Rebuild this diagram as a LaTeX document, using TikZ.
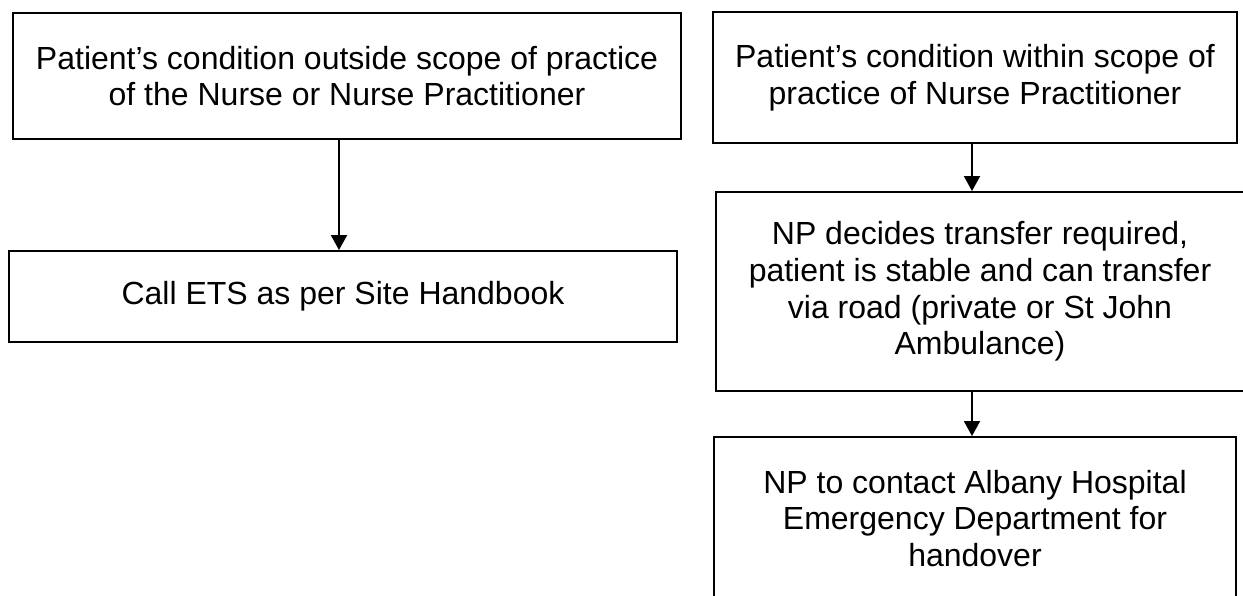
\documentclass[tikz,border=0pt]{standalone}
\usepackage{fontspec}
\setmainfont{Liberation Sans}
\usetikzlibrary{arrows.meta}
\begin{document}
\begin{tikzpicture}[x=1pt,y=-1pt,
  box/.style={draw=black,line width=1.9pt,rectangle,inner sep=0pt,align=center,
    font=\fontsize{32pt}{36.8pt}\selectfont},
  arr/.style={draw=black,line width=1.9pt,-{Triangle[width=16pt,length=15pt]}}]
\useasboundingbox[fill=white] (0,0) rectangle (1243,595);
\node[box,minimum width=668pt,minimum height=126pt] (b1) at (347,76)
  {Patient’s condition outside scope of practice\\of the Nurse or Nurse Practitioner};
\node[box,minimum width=668pt,minimum height=91pt] (b2) at (343,296.5)
  {Call ETS as per Site Handbook};
\node[box,minimum width=524pt,minimum height=131pt] (b3) at (975,77.5)
  {Patient’s condition within scope of\\practice of Nurse Practitioner};
\node[box,minimum width=528pt,minimum height=199pt] (b4) at (980,291.5)
  {NP decides transfer required,\\patient is stable and can transfer\\via road (private or St John\\Ambulance)};
\node[box,minimum width=522pt,minimum height=163pt] (b5) at (975,518.5)
  {NP to contact Albany Hospital\\Emergency Department for\\handover};
\coordinate (cl) at (339,0);
\coordinate (cr) at (972,0);
\draw[arr] (b1.south -| cl) -- (b2.north -| cl);
\draw[arr] (b3.south -| cr) -- (b4.north -| cr);
\draw[arr] (b4.south -| cr) -- (b5.north -| cr);
\end{tikzpicture}
\end{document}
